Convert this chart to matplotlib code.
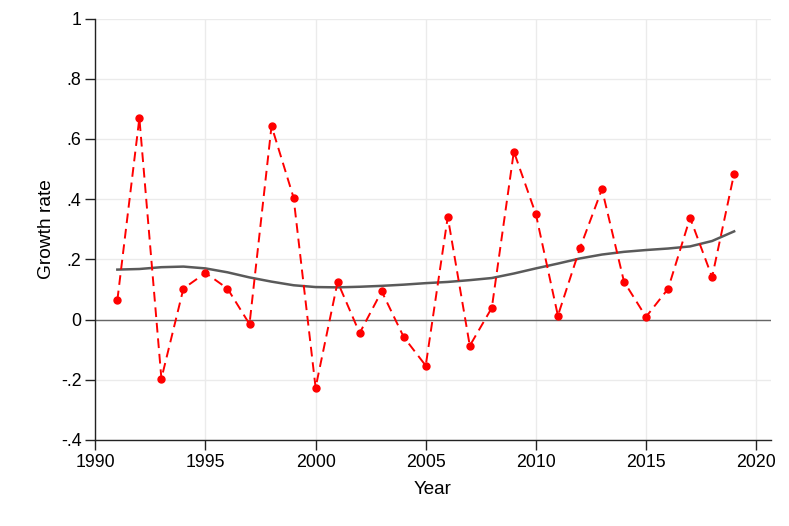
import matplotlib
matplotlib.use("Agg")
import matplotlib.pyplot as plt

plt.rcParams['font.family'] = ['Liberation Sans', 'DejaVu Sans']

years = list(range(1991, 2020))
growth = [0.064, 0.669, -0.196, 0.103, 0.155, 0.103, -0.015, 0.643, 0.405, -0.226,
          0.125, -0.045, 0.094, -0.058, -0.153, 0.341, -0.087, 0.039, 0.558, 0.350,
          0.013, 0.237, 0.433, 0.126, 0.009, 0.102, 0.338, 0.141, 0.485]
smooth = [0.166, 0.168, 0.174, 0.176, 0.170, 0.157, 0.140, 0.126, 0.114, 0.108,
          0.107, 0.109, 0.112, 0.116, 0.121, 0.125, 0.131, 0.138, 0.153, 0.170,
          0.186, 0.203, 0.216, 0.225, 0.231, 0.236, 0.243, 0.261, 0.293]
xticks = [1990, 1995, 2000, 2005, 2010, 2015, 2020]
yticks = [-0.4, -0.2, 0, 0.2, 0.4, 0.6, 0.8, 1]
ytick_labels = ['-.4', '-.2', '0', '.2', '.4', '.6', '.8', '1']

fig = plt.figure(figsize=(7.89, 5.26), dpi=100)
ax = fig.add_axes([0.1208, 0.1635, 0.856, 0.8013])

ax.set_xlim(1990, 2020.66)
ax.set_ylim(-0.4, 1.0)

ax.set_xticks(xticks)
ax.set_yticks(yticks)
ax.set_yticklabels(ytick_labels)
ax.grid(True, color='#ebebeb', linewidth=1.0, zorder=0)
ax.set_axisbelow(True)

ax.axhline(0, color='#666666', linewidth=1.0, zorder=1)

ax.plot(years, smooth, color='#5a5a5a', linewidth=1.8, zorder=2)
ax.plot(years, growth, color='#ff0000', linestyle=(0, (5, 3)), linewidth=1.4,
        marker='o', markersize=5, markerfacecolor='#ff0000', markeredgecolor='#ff0000',
        zorder=3)

for s in ['top', 'right']:
    ax.spines[s].set_visible(False)
for s in ['left', 'bottom']:
    ax.spines[s].set_color('#222222')
    ax.spines[s].set_linewidth(1.0)

ax.tick_params(axis='both', direction='out', length=7, width=1.0, color='#222222',
               labelsize=12.8, labelcolor='black')
ax.tick_params(axis='x', pad=3)
ax.tick_params(axis='y', pad=3)

ax.set_xlabel('Year', fontsize=13.5, labelpad=7)
ax.set_ylabel('Growth rate', fontsize=13.8, labelpad=4)

fig.savefig('out.png', dpi=100, facecolor='white')
